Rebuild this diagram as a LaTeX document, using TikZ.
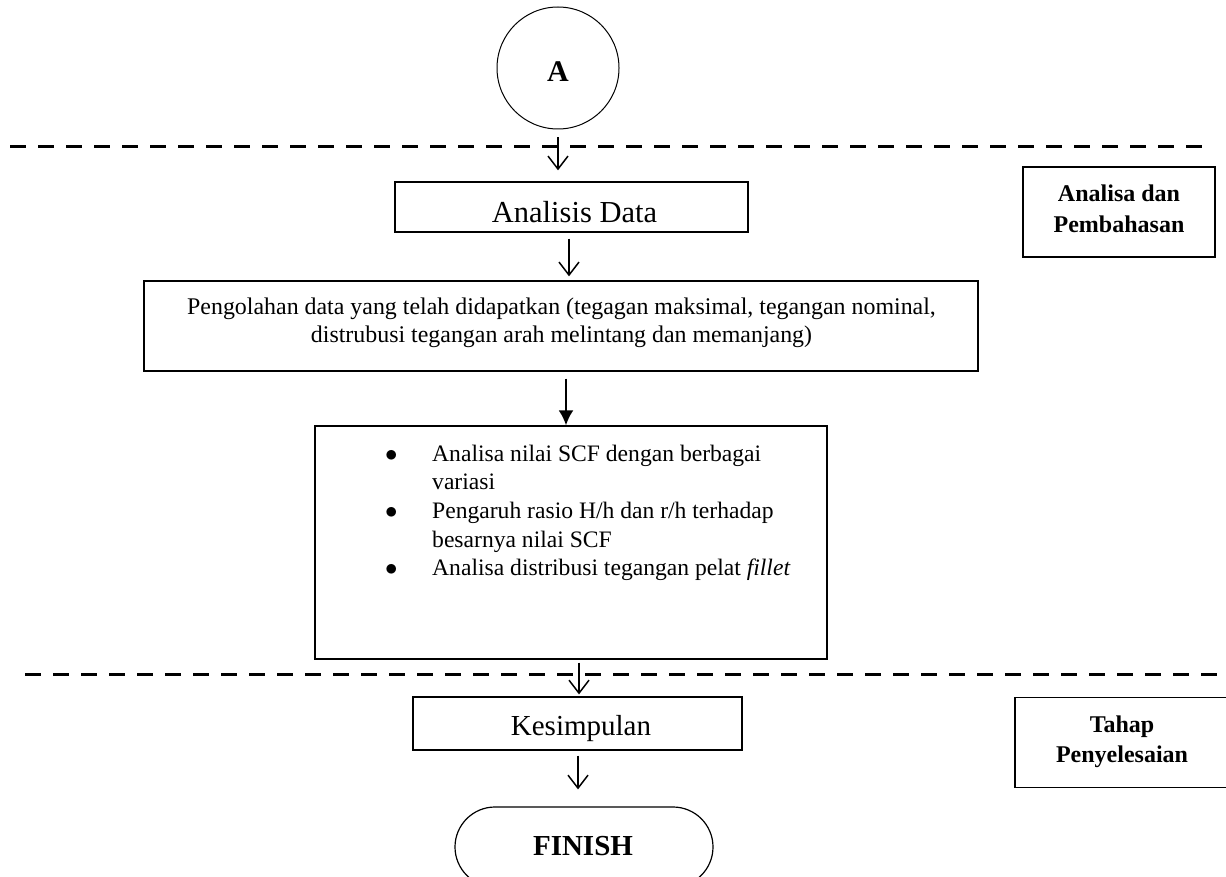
\documentclass[tikz,border=0pt]{standalone}
\usepackage{fontspec}
\setmainfont{Liberation Serif}
\usetikzlibrary{arrows.meta}
\begin{document}
\begin{tikzpicture}[x=1pt,y=-1pt,
  box/.style={draw,line width=1.4pt,inner sep=0pt},
  lbl/.style={inner sep=0pt,anchor=base},
  dashline/.style={line width=3pt,dash pattern=on 16pt off 12pt},
  openarrow/.style={line width=1.5pt,-{Straight Barb[length=13pt,width=20pt,line width=1.5pt]}},
  fillarrow/.style={line width=2pt,-{Latex[length=15pt,width=15pt]}},
  sidebox/.style={box,minimum height=90pt},
  sidetext/.style={lbl,align=center,font=\fontsize{24}{31}\selectfont\bfseries}
]
\useasboundingbox (0,0) rectangle (1226,877);
\clip (0,0) rectangle (1226,877);

% connector A
\node[draw,circle,line width=1pt,minimum size=122pt,inner sep=0pt] (A) at (558,68) {};
\node[lbl,font=\fontsize{30}{34}\selectfont\bfseries] (Atxt) at (558,82) {A};

% dashed separators
\coordinate (d1a) at (10,147);
\coordinate (d1b) at (1205,147);
\coordinate (d2a) at (25,674);
\coordinate (d2b) at (1226,674);
\draw[dashline] (d1a) -- (d1b);
\draw[dashline] (d2a) -- (d2b);

% Analisis Data
\node[box,minimum width=353pt,minimum height=50pt] (b1) at (571.5,207) {};
\node[lbl,font=\fontsize{30.5}{36}\selectfont] (b1t) at (574.5,223) {Analisis Data};

% Pengolahan
\node[box,minimum width=834pt,minimum height=90pt] (b2) at (561,326) {};
\node[lbl,font=\fontsize{23.9}{28}\selectfont,align=center] (b2t) at (561.5,342)
  {Pengolahan data yang telah didapatkan (tegagan maksimal, tegangan nominal,\\
   distrubusi tegangan arah melintang dan memanjang)};

% list box
\node[box,minimum width=512pt,minimum height=233pt] (b3) at (571,542.5) {};
\node[inner sep=0pt,anchor=base west,font=\fontsize{23.6}{28.7}\selectfont] (b3t) at (385,461)
  {\begin{tabular}[t]{@{}p{47pt}@{}l@{}}
   $\bullet$ & Analisa nilai SCF dengan berbagai\\
             & variasi\\
   $\bullet$ & Pengaruh rasio H/h dan r/h terhadap\\
             & besarnya nilai SCF\\
   $\bullet$ & Analisa distribusi tegangan pelat \textit{fillet}
   \end{tabular}};

% Kesimpulan
\node[box,line width=1.2pt,minimum width=329pt,minimum height=53pt] (b4) at (577.5,723.5) {};
\node[lbl,font=\fontsize{29}{34}\selectfont] (b4t) at (581,735) {Kesimpulan};

% Finish
\node[draw,line width=1.2pt,rounded corners=40pt,minimum width=258pt,minimum height=80pt,inner sep=0pt] (fin) at (584,847) {};
\node[lbl,font=\fontsize{29}{34}\selectfont\bfseries] (fint) at (583,855) {FINISH};

% side boxes
\node[sidebox,minimum width=192pt] (s1) at (1119,212) {};
\node[sidetext] (s1t) at (1119,233) {Analisa dan\\Pembahasan};
\node[sidebox,minimum width=214pt] (s2) at (1122,742.5) {};
\node[sidetext,font=\fontsize{24}{30}\selectfont\bfseries] (s2t) at (1122,762) {Tahap\\Penyelesaian};

% arrows
\draw[openarrow,shorten <=8pt,shorten >=11pt] (A.south) -- (A.south |- b1.north);
\draw[openarrow,shorten <=6pt,shorten >=4pt] (569,0 |- b1.south) -- (569,0 |- b2.north);
\draw[fillarrow,shorten <=7pt] (566,0 |- b2.south) -- (566,0 |- b3.north);
\draw[openarrow,shorten <=3pt,shorten >=2pt] (579,0 |- b3.south) -- (579,0 |- b4.north);
\draw[openarrow,shorten <=5pt,shorten >=17pt] (578,0 |- b4.south) -- (578,0 |- fin.north);
\end{tikzpicture}
\end{document}
